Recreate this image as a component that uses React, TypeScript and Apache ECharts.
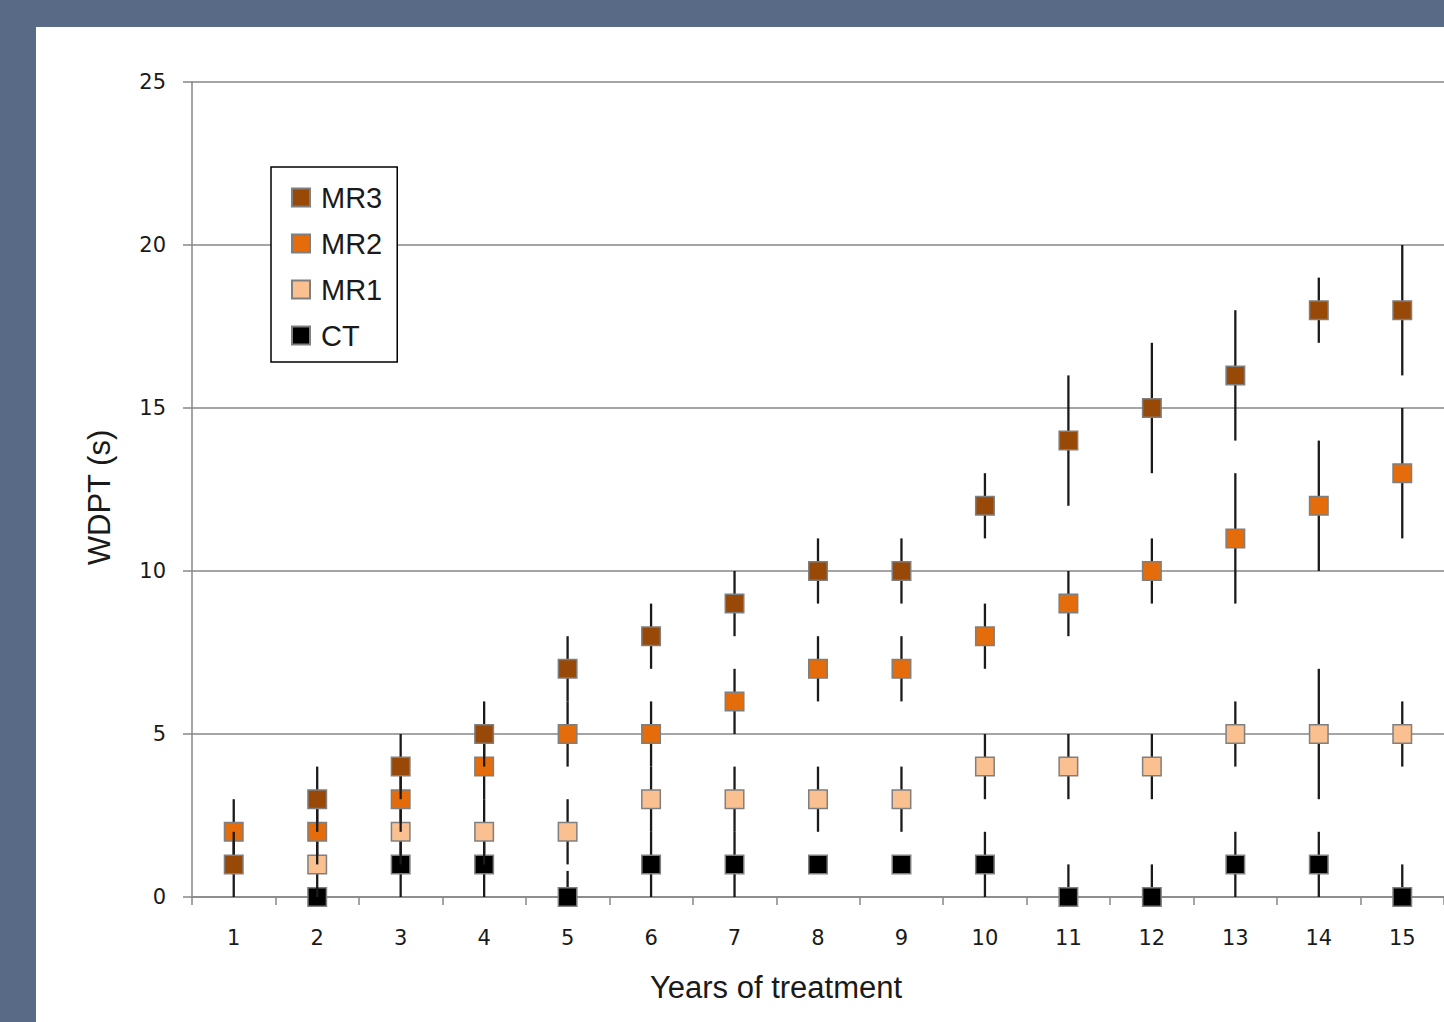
import React, { useEffect, useRef } from "react";
import * as echarts from "echarts";

const years = ["1", "2", "3", "4", "5", "6", "7", "8", "9", "10", "11", "12", "13", "14", "15"];
const yTicks = [0, 5, 10, 15, 20, 25];

const mr3 = [1, 3, 4, 5, 7, 8, 9, 10, 10, 12, 14, 15, 16, 18, 18];
const mr3Low = [0, 2, 3, 4, 6, 7, 8, 9, 9, 11, 12, 13, 14, 17, 16];
const mr3High = [2, 4, 5, 6, 8, 9, 10, 11, 11, 13, 16, 17, 18, 19, 20];

const mr2 = [2, 2, 3, 4, 5, 5, 6, 7, 7, 8, 9, 10, 11, 12, 13];
const mr2Low = [1, 1, 2, 3, 4, 4, 5, 6, 6, 7, 8, 9, 9, 10, 11];
const mr2High = [3, 3, 4, 5, 6, 6, 7, 8, 8, 9, 10, 11, 13, 14, 15];

const mr1 = [null, 1, 2, 2, 2, 3, 3, 3, 3, 4, 4, 4, 5, 5, 5];
const mr1Low = [null, 0, 1, 1, 1, 2, 2, 2, 2, 3, 3, 3, 4, 3, 4];
const mr1High = [null, 2, 3, 3, 3, 4, 4, 4, 4, 5, 5, 5, 6, 7, 6];

const ct = [null, 0, 1, 1, 0, 1, 1, 1, 1, 1, 0, 0, 1, 1, 0];
const ctLow = [null, 0, 0, 0, 0, 0, 0, 1, 1, 0, 0, 0, 0, 0, 0];
const ctHigh = [null, 0, 2, 2, 0.8, 2, 2, 1, 1, 2, 1, 1, 2, 2, 1];

const groups = [
  { name: "CT", values: ct, low: ctLow, high: ctHigh, color: "#000000" },
  { name: "MR1", values: mr1, low: mr1Low, high: mr1High, color: "#FAC090" },
  { name: "MR2", values: mr2, low: mr2Low, high: mr2High, color: "#E46C0A" },
  { name: "MR3", values: mr3, low: mr3Low, high: mr3High, color: "#984807" },
];

const GRAY = "#878787";

export default function App() {
  const ref = useRef<HTMLDivElement>(null);
  useEffect(() => {
    const chart = echarts.init(ref.current!, null, { renderer: "svg" });
    const series: any[] = [];
    groups.forEach((g, i) => {
      const errData = years
        .map((_, k) => (g.low[k] == null ? null : [k, g.low[k], g.high[k]]))
        .filter((d) => d !== null);
      series.push({
        name: g.name + " error",
        type: "custom",
        z: 2 + i * 2,
        silent: true,
        data: errData,
        renderItem: (params: any, api: any) => {
          const p1 = api.coord([api.value(0), api.value(1)]);
          const p2 = api.coord([api.value(0), api.value(2)]);
          return {
            type: "line",
            shape: { x1: p1[0], y1: p1[1], x2: p2[0], y2: p2[1] },
            style: { stroke: "#1a1a1a", lineWidth: 2.3 },
          };
        },
      });
      series.push({
        name: g.name,
        type: "scatter",
        z: 3 + i * 2,
        symbol: "rect",
        symbolSize: 18.5,
        itemStyle: { color: g.color, borderColor: "#7f7f7f", borderWidth: 1.5, opacity: 1 },
        data: g.values,
      });
    });

    chart.setOption({
      animation: false,
      backgroundColor: "#596a86",
      graphic: [
        {
          type: "rect",
          z: -10,
          shape: { x: 36, y: 27, width: 1408, height: 995 },
          style: { fill: "#ffffff" },
          silent: true,
        },
      ],
      legend: {
        data: ["MR3", "MR2", "MR1", "CT"],
        orient: "vertical",
        left: 271,
        top: 167,
        padding: [16, 15, 12, 20],
        itemWidth: 18,
        itemHeight: 18,
        itemGap: 17,
        icon: "rect",
        backgroundColor: "#ffffff",
        borderColor: "#000000",
        borderWidth: 1.5,
        textStyle: {
          fontFamily: "Liberation Sans, Arial, sans-serif",
          fontSize: 29,
          lineHeight: 27,
          color: "#1a1a1a",
          padding: [0, 0, 0, 6],
        },
      },
      grid: { left: 192, top: 82, width: 1254, height: 815 },
      xAxis: {
        type: "category",
        data: years,
        name: "Years of treatment",
        nameLocation: "middle",
        nameGap: 75,
        nameTextStyle: {
          fontFamily: "Liberation Sans, Arial, sans-serif",
          fontSize: 31,
          color: "#1a1a1a",
          padding: [0, 84, 0, 0],
        },
        axisLine: { lineStyle: { color: GRAY, width: 1.5 } },
        axisTick: { show: true, length: 8, lineStyle: { color: GRAY, width: 1.5 } },
        axisLabel: {
          fontFamily: "DejaVu Sans, Verdana, sans-serif",
          fontSize: 21,
          color: "#1a1a1a",
          margin: 30,
        },
        splitLine: { show: false },
      },
      yAxis: {
        type: "value",
        min: yTicks[0],
        max: yTicks[yTicks.length - 1],
        interval: 5,
        name: "WDPT (s)",
        nameLocation: "middle",
        nameRotate: 90,
        nameGap: 77,
        nameTextStyle: {
          fontFamily: "Liberation Sans, Arial, sans-serif",
          fontSize: 31,
          color: "#1a1a1a",
          padding: [0, 16, 0, 0],
        },
        axisLine: { show: true, lineStyle: { color: GRAY, width: 1.5 } },
        axisTick: { show: true, length: 9, lineStyle: { color: GRAY, width: 1.5 } },
        axisLabel: {
          fontFamily: "DejaVu Sans, Verdana, sans-serif",
          fontSize: 21,
          color: "#1a1a1a",
          margin: 26,
        },
        splitLine: { lineStyle: { color: GRAY, width: 1.5 } },
      },
      series,
    });
    return () => chart.dispose();
  }, []);
  return (
    <div
      ref={ref}
      style={{ position: "absolute", left: 0, top: 0, width: 1444, height: 1022 }}
    />
  );
}
